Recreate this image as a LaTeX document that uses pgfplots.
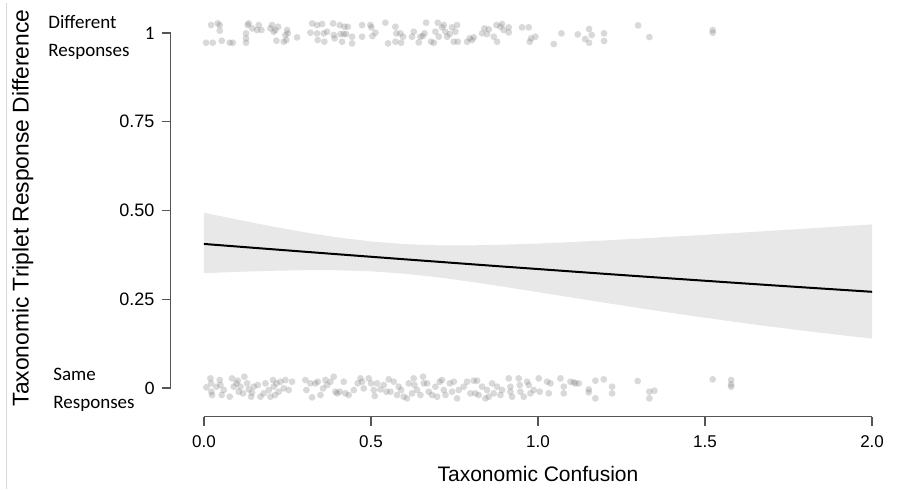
\documentclass[border=0pt]{standalone}
\usepackage{pgfplots}
\pgfplotsset{compat=1.18}
\usepackage{fontspec}
\setmainfont{Liberation Sans}
\newfontfamily\carl{Carlito}
\definecolor{axiscol}{HTML}{555555}
\definecolor{bandcol}{HTML}{E8E8E8}
\definecolor{edgecol}{HTML}{D9D9D9}
\begin{document}
\begin{tikzpicture}
\useasboundingbox (0,0) rectangle (449pt,-244.5pt);
\begin{axis}[
  at={(85.25pt,-208.35pt)}, anchor=south west,
  scale only axis, width=350.8pt, height=200.7pt,
  xmin=-0.1, xmax=2.0, ymin=-0.0808, ymax=1.05,
  axis x line*=bottom, axis y line*=left,
  x axis line style={draw=none}, y axis line style={draw=none},
  tick align=outside, major tick length=4.5pt,
  every tick/.style={axiscol, line width=0.65pt},
  xtick={0,0.5,1,1.5,2}, xticklabels={0.0,0.5,1.0,1.5,2.0},
  ytick={0,0.25,0.5,0.75,1},
  yticklabels={{\carl\fontsize{9.5}{11}\selectfont 0},0.25,0.50,0.75,{\carl\fontsize{9.5}{11}\selectfont 1}},
  x tick label style={font=\fontsize{8.5}{10}\selectfont, yshift=-1.5pt},
  y tick label style={font=\fontsize{9}{10}\selectfont},
  clip=false,
]
% confidence band: upper edge, then lower edge reversed
\addplot[draw=none, fill=bandcol] coordinates {
 (0.0,0.4939) (0.1,0.4745) (0.2,0.4560) (0.3,0.4390) (0.4,0.4243) (0.5,0.4129)
 (0.6,0.4055) (0.7,0.4022) (0.8,0.4020) (0.9,0.4039) (1.0,0.4071) (1.1,0.4112)
 (1.2,0.4158) (1.3,0.4209) (1.4,0.4262) (1.5,0.4317) (1.6,0.4374) (1.7,0.4431)
 (1.8,0.4490) (1.9,0.4550) (2.0,0.4610)
 (2.0,0.1392) (1.9,0.1497) (1.8,0.1609) (1.7,0.1726) (1.6,0.1850) (1.5,0.1980)
 (1.4,0.2115) (1.3,0.2256) (1.2,0.2402) (1.1,0.2551) (1.0,0.2701) (0.9,0.2850)
 (0.8,0.2992) (0.7,0.3119) (0.6,0.3221) (0.5,0.3288) (0.4,0.3318) (0.3,0.3320)
 (0.2,0.3302) (0.1,0.3273) (0.0,0.3236)
} -- cycle;
\addplot[black, line width=1pt] coordinates {
 (0.0,0.4059) (0.1,0.3986) (0.2,0.3913) (0.3,0.3841) (0.4,0.3769) (0.5,0.3698)
 (0.6,0.3627) (0.7,0.3558) (0.8,0.3488) (0.9,0.3419) (1.0,0.3352) (1.1,0.3284)
 (1.2,0.3217) (1.3,0.3151) (1.4,0.3086) (1.5,0.3022) (1.6,0.2958) (1.7,0.2895)
 (1.8,0.2833) (1.9,0.2772) (2.0,0.2711)
};
% jittered responses
\addplot[only marks, mark=*, mark size=1.7pt, mark options={fill=black!50, draw opacity=0, fill opacity=0.3}] table {
x y
0.0065 0.9728
0.0215 1.0225
0.0264 0.9728
0.0414 1.0272
0.0474 1.0066
0.0474 1.0225
0.0534 0.9784
0.0773 0.9728
0.0863 0.9728
0.1262 0.9991
0.1262 0.9728
0.1262 0.9850
0.1312 1.0225
0.1342 1.0272
0.1452 1.0131
0.1591 1.0085
0.1641 1.0225
0.1721 1.0085
0.1990 1.0131
0.2040 1.0225
0.2090 1.0038
0.2140 1.0085
0.2220 1.0178
0.2170 0.9784
0.2389 0.9756
0.2439 0.9944
0.2489 1.0085
0.2509 0.9991
0.2469 0.9803
0.2789 0.9878
0.3188 1.0009
0.3238 1.0272
0.3387 1.0225
0.3387 0.9991
0.3407 0.9803
0.3537 1.0254
0.3587 0.9991
0.3607 0.9756
0.3687 1.0038
0.3866 1.0272
0.3886 0.9944
0.3916 0.9850
0.4066 1.0225
0.4086 0.9972
0.4135 0.9756
0.4185 0.9972
0.4205 1.0178
0.4305 1.0178
0.4255 0.9972
0.4435 0.9897
0.4435 0.9709
0.4734 1.0225
0.4734 0.9897
0.4983 1.0225
0.5013 1.0160
0.5043 0.9915
0.5133 1.0009
0.5432 1.0291
0.5512 0.9709
0.5731 1.0178
0.5761 0.9991
0.5731 0.9756
0.5881 0.9991
0.5901 0.9728
0.5961 0.9897
0.6230 0.9897
0.6280 1.0038
0.6430 0.9737
0.6480 0.9897
0.6550 0.9915
0.6600 0.9991
0.6650 1.0291
0.6799 0.9756
0.6879 0.9728
0.6929 1.0038
0.6999 1.0291
0.7029 0.9897
0.7129 1.0160
0.7179 1.0225
0.7229 1.0038
0.7279 0.9897
0.7358 0.9972
0.7428 1.0160
0.7478 0.9756
0.7528 1.0038
0.7578 1.0225
0.7598 0.9756
0.7877 0.9756
0.7957 0.9850
0.8027 0.9803
0.8077 0.9878
0.8326 0.9991
0.8396 1.0131
0.8475 0.9972
0.8525 1.0103
0.8675 0.9897
0.8755 1.0225
0.8775 0.9756
0.8875 1.0178
0.8924 1.0254
0.8974 1.0085
0.9124 1.0160
0.9124 1.0019
0.9523 1.0160
0.9723 1.0160
0.9753 0.9756
0.9793 0.9850
0.9922 0.9897
1.0471 0.9690
1.0701 0.9991
1.1190 0.9962
1.1410 0.9831
1.1529 1.0113
1.1529 0.9727
1.1607 0.9944
1.1978 0.9991
1.1978 0.9775
1.2996 1.0216
1.3334 0.9887
1.5229 1.0085
1.5229 1.0009
0.0075 0.0019
0.0195 0.0272
0.0215 0.0131
0.0224 -0.0103
0.0244 -0.0197
0.0374 0.0038
0.0474 0.0225
0.0494 0.0085
0.0534 -0.0197
0.0594 -0.0056
0.0773 -0.0244
0.0843 0.0272
0.0893 0.0038
0.0973 0.0131
0.1013 0.0207
0.1043 -0.0103
0.1093 0.0038
0.1172 -0.0150
0.1212 0.0319
0.1292 0.0131
0.1342 -0.0038
0.1412 -0.0244
0.1442 -0.0131
0.1492 0.0038
0.1611 0.0085
0.1691 -0.0244
0.1791 -0.0150
0.1841 0.0131
0.1940 -0.0056
0.1990 -0.0244
0.2070 0.0225
0.2090 0.0038
0.2130 -0.0197
0.2170 0.0131
0.2240 -0.0103
0.2290 0.0178
0.2389 -0.0009
0.2439 0.0225
0.2539 -0.0056
0.2639 0.0178
0.3038 0.0225
0.3068 -0.0056
0.3188 0.0131
0.3238 -0.0263
0.3337 0.0131
0.3407 0.0178
0.3487 -0.0197
0.3567 -0.0009
0.3637 0.0225
0.3687 0.0085
0.3786 0.0178
0.3886 0.0319
0.3936 -0.0103
0.3986 -0.0150
0.4066 -0.0103
0.4185 0.0178
0.4235 -0.0150
0.4335 -0.0197
0.4485 -0.0056
0.4604 0.0131
0.4684 0.0272
0.4734 0.0178
0.4784 -0.0009
0.4933 0.0272
0.5003 0.0131
0.5083 -0.0056
0.5113 -0.0225
0.5183 0.0131
0.5282 -0.0038
0.5382 0.0085
0.5462 -0.0103
0.5532 0.0244
0.5582 -0.0103
0.5682 0.0178
0.5781 -0.0197
0.5831 0.0038
0.5901 -0.0056
0.5981 -0.0244
0.6081 -0.0291
0.6131 0.0131
0.6230 -0.0150
0.6280 0.0272
0.6300 0.0085
0.6380 -0.0056
0.6480 -0.0197
0.6560 0.0319
0.6580 0.0131
0.6680 0.0131
0.6730 -0.0103
0.6830 -0.0197
0.6929 0.0038
0.6979 -0.0244
0.7059 0.0178
0.7129 0.0225
0.7179 -0.0056
0.7229 -0.0197
0.7358 0.0131
0.7428 -0.0103
0.7478 0.0178
0.7578 -0.0291
0.7628 -0.0056
0.7777 0.0038
0.7877 0.0178
0.7977 -0.0150
0.8077 0.0207
0.8126 -0.0150
0.8176 0.0207
0.8226 -0.0197
0.8326 0.0038
0.8426 -0.0291
0.8475 -0.0056
0.8525 -0.0244
0.8625 0.0131
0.8675 -0.0150
0.8775 0.0038
0.8875 -0.0197
0.8924 -0.0056
0.9124 0.0272
0.9174 0.0038
0.9174 -0.0103
0.9224 -0.0244
0.9423 0.0272
0.9453 0.0085
0.9473 -0.0103
0.9573 -0.0244
0.9673 0.0178
0.9723 0.0085
0.9773 -0.0150
0.9873 -0.0056
1.0022 0.0272
1.0052 -0.0103
1.0272 0.0178
1.0322 -0.0150
1.0372 0.0131
1.0671 0.0272
1.0771 0.0038
1.0771 -0.0150
1.0971 0.0178
1.1070 0.0160
1.1120 0.0131
1.1220 0.0131
1.1519 -0.0038
1.1519 -0.0122
1.1718 0.0207
1.1718 -0.0291
1.1968 0.0244
1.2218 0.0038
1.2218 -0.0150
1.2984 0.0197
1.3334 -0.0103
1.3334 -0.0291
1.3484 -0.0075
1.5229 0.0244
1.5780 0.0225
1.5780 0.0103
1.5780 0.0038
};
% axis lines spanning only the data range (R style)
\draw[axiscol, line width=0.65pt] (axis cs:-0.1,0) -- (axis cs:-0.1,1);
\draw[axiscol, line width=0.65pt] (axis cs:0,-0.0808) -- (axis cs:2,-0.0808);
\end{axis}
\begin{scope}[x=0.5pt,y=-0.5pt]
\draw[edgecol, line width=0.5pt] (6.5,3) -- (6.5,489);
\node[anchor=base west, inner sep=0, font=\carl\fontsize{9.5}{11}\selectfont] at (48,28) {Different};
\node[anchor=base west, inner sep=0, font=\carl\fontsize{9.5}{11}\selectfont] at (48,56) {Responses};
\node[anchor=base west, inner sep=0, font=\carl\fontsize{9.5}{11}\selectfont] at (53,380) {Same};
\node[anchor=base west, inner sep=0, font=\carl\fontsize{9.5}{11}\selectfont] at (53,408) {Responses};
\node[rotate=90, anchor=base, inner sep=0, font=\fontsize{11.4}{13}\selectfont] at (28.5,208) {Taxonomic Triplet Response Difference};
\node[anchor=base, inner sep=0, font=\fontsize{10.5}{12}\selectfont] at (538,481.7) {Taxonomic Confusion};
\end{scope}
\end{tikzpicture}
\end{document}
